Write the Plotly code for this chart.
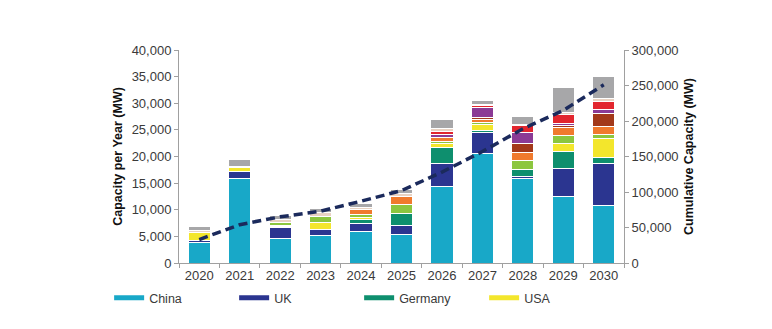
import plotly.graph_objects as go

# Annual offshore wind capacity additions by market (MW), plus cumulative total
years = ["2020", "2021", "2022", "2023", "2024", "2025", "2026", "2027", "2028", "2029", "2030"]

china = [3800, 15900, 4600, 5100, 6000, 5400, 14300, 20600, 15800, 12400, 10800]
uk = [500, 1200, 2000, 1200, 1500, 1700, 4400, 3900, 500, 5400, 7900]
germany = [0, 0, 200, 0, 600, 2200, 2900, 300, 1200, 3200, 1100]
usa = [1400, 800, 300, 1300, 500, 0, 800, 1200, 0, 1400, 3500]
other_a = [0, 0, 600, 1200, 600, 1700, 500, 300, 1800, 1600, 800]
other_b = [0, 0, 0, 0, 900, 1500, 700, 700, 1400, 1400, 1500]
other_c = [0, 0, 0, 0, 0, 0, 0, 300, 1800, 500, 2400]
other_d = [0, 0, 0, 0, 0, 0, 600, 1900, 2100, 300, 900]
other_e = [0, 0, 0, 0, 0, 0, 500, 300, 1200, 1600, 1500]
other_f = [400, 300, 400, 600, 300, 600, 500, 300, 300, 400, 400]
other_g = [700, 1300, 900, 900, 700, 700, 1800, 700, 1500, 4800, 4200]

cumulative = [33000, 54000, 65000, 73000, 87000, 102000, 128000, 157000, 189000, 215000, 251000]

series = [
    ("China", china, "#18a8c8", True),
    ("UK", uk, "#2b3590", True),
    ("Germany", germany, "#0e8f6e", True),
    ("USA", usa, "#f3e62c", True),
    ("Market A", other_a, "#8cc63f", False),
    ("Market B", other_b, "#f07a2d", False),
    ("Market C", other_c, "#a3391a", False),
    ("Market D", other_d, "#8b3a95", False),
    ("Market E", other_e, "#e2262e", False),
    ("Market F", other_f, "#e8d2c2", False),
    ("Market G", other_g, "#a7a7a9", False),
]

fig = go.Figure()

for name, vals, color, _ in series:
    fig.add_trace(go.Bar(
        x=years, y=vals, name=name,
        marker=dict(color=color, line=dict(color="white", width=1)),
        width=0.55, showlegend=False,
    ))

fig.add_trace(go.Scatter(
    x=years, y=cumulative, yaxis="y2", mode="lines",
    line=dict(color="#1b2a5c", width=3.5, dash="9px,5px"),
    name="Cumulative", showlegend=False,
))

# legend entries drawn as long swatches
for name, vals, color, show in series:
    if show:
        fig.add_trace(go.Scatter(
            x=[None], y=[None], mode="lines", name=name,
            line=dict(color=color, width=5), showlegend=True,
        ))

FONT = "Liberation Sans, Arial, sans-serif"
axis_font = dict(family=FONT, size=13, color="#3a3a3a")
title_font = dict(family=FONT, size=12.5, color="#111111")

fig.update_layout(
    width=772, height=329,
    margin=dict(l=179, r=148, t=50, b=66, autoexpand=False),
    paper_bgcolor="white", plot_bgcolor="white",
    barmode="stack",
    font=dict(family=FONT, size=12, color="#3a3a3a"),
    xaxis=dict(
        type="category", range=[-0.5, 10.5],
        showline=True, linecolor="#a0a0a0", linewidth=1,
        ticks="outside", tickson="boundaries", ticklen=4, tickcolor="#a0a0a0",
        tickfont=axis_font, showgrid=False,
    ),
    yaxis=dict(
        range=[0, 40000], dtick=5000, tickformat=",",
        showline=True, linecolor="#a0a0a0", linewidth=1,
        ticks="outside", ticklen=4, tickcolor="#a0a0a0",
        tickfont=axis_font, showgrid=False, zeroline=False,
        title=dict(text="<b>Capacity per Year (MW)</b>", font=title_font, standoff=6),
    ),
    yaxis2=dict(
        range=[0, 300000], dtick=50000, tickformat=",",
        overlaying="y", side="right",
        showline=True, linecolor="#a0a0a0", linewidth=1,
        ticks="outside", ticklen=4, tickcolor="#a0a0a0",
        tickfont=axis_font, showgrid=False, zeroline=False,
        title=dict(text="<b>Cumulative Capacity (MW)</b>", font=title_font, standoff=6),
    ),
    legend=dict(
        orientation="h", x=-0.157, xanchor="left", y=-0.165, yanchor="middle",
        entrywidth=80, entrywidthmode="pixels", traceorder="normal",
        font=dict(family=FONT, size=12.5, color="#3a3a3a"),
        itemwidth=30, tracegroupgap=0,
    ),
)

fig.write_html("out.html")
